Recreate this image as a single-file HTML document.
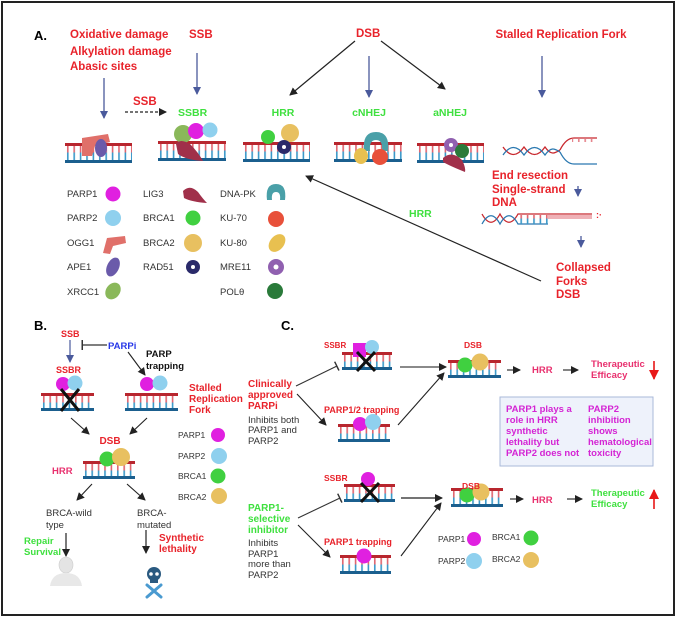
<!DOCTYPE html>
<html><head><meta charset="utf-8"><style>
html,body{margin:0;padding:0;background:#fff}
svg{display:block}
text{font-family:"Liberation Sans",sans-serif}
.r{fill:#e8232b;font-weight:bold;font-size:11.5px}
.rs{fill:#e8232b;font-weight:bold;font-size:9px}
.g{fill:#3fe03f;font-weight:bold;font-size:10.5px}
.gs{fill:#3fe03f;font-weight:bold;font-size:9.5px}
.k{fill:#333;font-size:9.5px}
.kb{fill:#111;font-weight:bold;font-size:9.5px}
.p{fill:#e8306e;font-weight:bold;font-size:9.5px}
.m{fill:#d424d4;font-weight:bold;font-size:9.5px}
.H{fill:#000;font-weight:bold;font-size:13px}
</style></head><body>
<svg width="677" height="618" viewBox="0 0 677 618" xmlns="http://www.w3.org/2000/svg">
<defs>
<pattern id="rg" width="6.4" height="19" patternUnits="userSpaceOnUse">
<rect x="2" y="0" width="1.6" height="9.5" fill="#e0646e"/>
<rect x="2" y="9.5" width="1.6" height="9.5" fill="#3a98c8"/>
</pattern>
<marker id="ak" markerWidth="8" markerHeight="8" refX="7" refY="4" orient="auto" markerUnits="userSpaceOnUse"><path d="M0,0 L8,4 L0,8 z" fill="#222"/></marker>
<marker id="ab" markerWidth="8" markerHeight="8" refX="7" refY="4" orient="auto" markerUnits="userSpaceOnUse"><path d="M0,0 L8,4 L0,8 z" fill="#4a5a9c"/></marker>
<marker id="ar" markerWidth="10" markerHeight="10" refX="9" refY="5" orient="auto" markerUnits="userSpaceOnUse"><path d="M0,0 L10,5 L0,10 z" fill="#e81818"/></marker>
<marker id="tb" markerWidth="2" markerHeight="10" refX="1" refY="5" orient="auto" markerUnits="userSpaceOnUse"><rect x="0" y="0" width="1.5" height="10" fill="#333"/></marker>
</defs>
<rect x="2" y="2" width="672" height="613" fill="none" stroke="#222" stroke-width="2"/>

<!-- ===== Panel A ===== -->
<text x="34" y="40" class="H">A.</text>
<text x="70" y="38" class="r">Oxidative damage</text>
<text x="70" y="55" class="r">Alkylation damage</text>
<text x="70" y="70" class="r">Abasic sites</text>
<text x="189" y="38" class="r">SSB</text>
<line x1="104" y1="78" x2="104" y2="118" stroke="#4a5a9c" stroke-width="1.3" marker-end="url(#ab)"/>
<line x1="197" y1="53" x2="197" y2="94" stroke="#4a5a9c" stroke-width="1.3" marker-end="url(#ab)"/>
<text x="133" y="105" class="r">SSB</text>
<line x1="125" y1="112" x2="166" y2="112" stroke="#222" stroke-width="1.2" stroke-dasharray="3,2" marker-end="url(#ak)"/>
<text x="178" y="116" class="g">SSBR</text>

<text x="356" y="37" class="r">DSB</text>
<line x1="355" y1="41" x2="290" y2="95" stroke="#222" stroke-width="1.2" marker-end="url(#ak)"/>
<line x1="381" y1="41" x2="445" y2="89" stroke="#222" stroke-width="1.2" marker-end="url(#ak)"/>
<line x1="369" y1="56" x2="369" y2="97" stroke="#4a5a9c" stroke-width="1.3" marker-end="url(#ab)"/>
<text x="283" y="116" class="g" text-anchor="middle">HRR</text>
<text x="369" y="116" class="g" text-anchor="middle">cNHEJ</text>
<text x="450" y="116" class="g" text-anchor="middle">aNHEJ</text>

<text x="561" y="38" class="r" text-anchor="middle">Stalled Replication Fork</text>
<line x1="542" y1="56" x2="542" y2="97" stroke="#4a5a9c" stroke-width="1.3" marker-end="url(#ab)"/>

<!-- DNA A -->
<g transform="translate(65,143)"><rect width="67" height="19" fill="url(#rg)"/><rect width="67" height="3" fill="#b8262e"/><rect y="17" width="67" height="3" fill="#1b5f8e"/></g>
<g transform="translate(158,141)"><rect width="68" height="19" fill="url(#rg)"/><rect width="68" height="3" fill="#b8262e"/><rect y="17" width="68" height="3" fill="#1b5f8e"/></g>
<g transform="translate(243,142)"><rect width="67" height="19" fill="url(#rg)"/><rect width="67" height="3" fill="#b8262e"/><rect y="17" width="67" height="3" fill="#1b5f8e"/></g>
<g transform="translate(334,142)"><rect width="68" height="19" fill="url(#rg)"/><rect width="68" height="3" fill="#b8262e"/><rect y="17" width="68" height="3" fill="#1b5f8e"/></g>
<g transform="translate(417,143)"><rect width="67" height="19" fill="url(#rg)"/><rect width="67" height="3" fill="#b8262e"/><rect y="17" width="67" height="3" fill="#1b5f8e"/></g>
<!-- proteins A -->
<path d="M82,138 L108,134 L110,142 L95,146 L92,156 L82,156 z" fill="#e0706a"/>
<ellipse cx="101" cy="148" rx="6" ry="9" fill="#6a5aaa"/>
<ellipse cx="183" cy="134" rx="9" ry="9" fill="#8ab85a"/>
<circle cx="196" cy="131" r="8" fill="#e020e0"/>
<circle cx="210" cy="130" r="7.5" fill="#8fd0ee"/>
<path d="M176,144 Q180,138 190,144 Q198,152 203,161 Q186,160 178,154 z" fill="#a0304a"/>
<circle cx="268" cy="137" r="7" fill="#40d040"/>
<circle cx="290" cy="133" r="9" fill="#e8c060"/>
<circle cx="284" cy="147" r="7" fill="#2a2a6a"/><circle cx="284" cy="147" r="2" fill="#fff"/>
<path d="M364,151 Q362,132 376,132 Q390,132 388,151 L382,151 Q383,140 376,140 Q369,140 370,151 z" fill="#4aa0a8"/>
<ellipse cx="361" cy="156" rx="7" ry="8" fill="#e8c050"/>
<circle cx="380" cy="157" r="8" fill="#e8503a"/>
<circle cx="451" cy="145" r="7" fill="#9060b0"/><circle cx="451" cy="145" r="2" fill="#fff"/>
<circle cx="462" cy="151" r="7" fill="#2a7a3a"/>
<path d="M443,158 Q452,150 462,160 Q466,168 465,172 Q450,166 443,162 z" fill="#a0304a"/>

<!-- Fork -->
<g fill="none" stroke-width="1.3">
<path d="M503,147 C510,157 517,157 524,147 C531,157 538,157 545,147 C552,157 556,152 560,150" stroke="#c8282e"/>
<path d="M503,155 C510,145 517,145 524,155 C531,145 538,145 545,155 C552,145 556,150 560,152" stroke="#2a78b0"/>
<path d="M560,150 Q566,138 574,138 L597,138" stroke="#c8282e"/>
<path d="M560,152 Q566,164 574,164 L597,164" stroke="#2a78b0"/>
</g>
<rect x="572" y="139" width="24" height="3" fill="url(#rg)" opacity="0.8"/>
<text x="492" y="179" class="r">End resection</text>
<text x="492" y="193" class="r">Single-strand</text>
<text x="492" y="206" class="r">DNA</text>
<line x1="578" y1="186" x2="578" y2="196" stroke="#4a5a9c" stroke-width="1.3" marker-end="url(#ab)"/>
<g fill="none" stroke-width="1.3">
<path d="M482,214 C488,225 494,225 500,214 C506,225 512,225 518,214 L592,214" stroke="#c8282e"/>
<path d="M482,224 C488,213 494,213 500,224 C506,213 512,213 518,224 L548,224" stroke="#2a78b0"/>
</g>
<rect x="520" y="215" width="28" height="9" fill="url(#rg)"/>
<rect x="548" y="215" width="44" height="4" fill="#e0646e" opacity="0.5"/>
<text x="596" y="218" class="rs" font-size="7">:·</text>
<line x1="581" y1="236" x2="581" y2="247" stroke="#4a5a9c" stroke-width="1.3" marker-end="url(#ab)"/>
<text x="556" y="271" class="r">Collapsed</text>
<text x="556" y="285" class="r">Forks</text>
<text x="556" y="298" class="r">DSB</text>
<line x1="541" y1="281" x2="306" y2="176" stroke="#222" stroke-width="1.2" marker-end="url(#ak)"/>
<text x="409" y="217" class="g">HRR</text>

<!-- Legend A -->
<text x="67" y="197" class="k">PARP1</text><text x="67" y="221" class="k">PARP2</text><text x="67" y="246" class="k">OGG1</text><text x="67" y="270" class="k">APE1</text><text x="67" y="295" class="k">XRCC1</text>
<text x="143" y="197" class="k">LIG3</text><text x="143" y="221" class="k">BRCA1</text><text x="143" y="246" class="k">BRCA2</text><text x="143" y="270" class="k">RAD51</text>
<text x="220" y="197" class="k">DNA-PK</text><text x="220" y="221" class="k">KU-70</text><text x="220" y="246" class="k">KU-80</text><text x="220" y="270" class="k">MRE11</text><text x="220" y="295" class="k">POLθ</text>
<circle cx="113" cy="194" r="7.5" fill="#e020e0"/>
<circle cx="113" cy="218" r="8" fill="#8fd0ee"/>
<path d="M103,253 L107,238 L125,236 L126,243 L113,246 L110,254 z" fill="#e0706a"/>
<ellipse cx="113" cy="267" rx="6" ry="10" fill="#6a5aaa" transform="rotate(25 113 267)"/>
<ellipse cx="113" cy="291" rx="7" ry="9" fill="#8ab85a" transform="rotate(35 113 291)"/>
<path d="M183,191 Q190,184 198,192 Q203,199 207,203 Q192,202 184,198 z" fill="#a0304a"/>
<circle cx="193" cy="218" r="7.5" fill="#40d040"/>
<circle cx="193" cy="243" r="9" fill="#e8c060"/>
<circle cx="193" cy="267" r="7" fill="#2a2a6a"/><circle cx="193" cy="267" r="2" fill="#fff"/>
<path d="M267,200 Q265,184 276,184 Q287,184 285,200 L280,200 Q281,192 276,192 Q271,192 272,200 z" fill="#4aa0a8"/>
<circle cx="276" cy="219" r="8" fill="#e8503a"/>
<ellipse cx="277" cy="243" rx="7" ry="10" fill="#e8c050" transform="rotate(40 277 243)"/>
<circle cx="276" cy="267" r="8" fill="#9060b0"/><circle cx="276" cy="267" r="2.5" fill="#fff"/>
<circle cx="275" cy="291" r="8" fill="#2a7a3a"/>

<!-- ===== Panel B ===== -->
<text x="34" y="330" class="H">B.</text>
<text x="61" y="337" class="rs">SSB</text>
<line x1="70" y1="340" x2="70" y2="362" stroke="#4a5a9c" stroke-width="1.2" marker-end="url(#ab)"/>
<line x1="107" y1="345" x2="82" y2="345" stroke="#333" stroke-width="1.2" marker-end="url(#tb)"/>
<text x="108" y="349" style="fill:#2838e8;font-weight:bold;font-size:9.5px">PARPi</text>
<line x1="128" y1="352" x2="145" y2="375" stroke="#222" stroke-width="1.1" marker-end="url(#ak)"/>
<text x="146" y="357" class="kb">PARP</text>
<text x="146" y="369" class="kb">trapping</text>
<text x="56" y="373" class="rs">SSBR</text>
<g transform="translate(41,393)"><rect width="53" height="17" fill="url(#rg)"/><rect width="53" height="3" fill="#b8262e"/><rect y="15" width="53" height="3" fill="#1b5f8e"/></g>
<circle cx="63" cy="384" r="7" fill="#e020e0"/><circle cx="75" cy="383" r="7.5" fill="#8fd0ee"/>
<path d="M61,389 L79,411 M79,389 L61,411" stroke="#111" stroke-width="3"/>
<g transform="translate(125,393)"><rect width="53" height="17" fill="url(#rg)"/><rect width="53" height="3" fill="#b8262e"/><rect y="15" width="53" height="3" fill="#1b5f8e"/></g>
<circle cx="147" cy="384" r="7" fill="#e020e0"/><circle cx="160" cy="383" r="7.5" fill="#8fd0ee"/>
<text x="189" y="391" class="r" style="font-size:10px">Stalled</text>
<text x="189" y="402" class="r" style="font-size:10px">Replication</text>
<text x="189" y="413" class="r" style="font-size:10px">Fork</text>
<line x1="71" y1="418" x2="89" y2="434" stroke="#222" stroke-width="1.1" marker-end="url(#ak)"/>
<line x1="147" y1="418" x2="130" y2="434" stroke="#222" stroke-width="1.1" marker-end="url(#ak)"/>
<text x="110" y="444" class="r" text-anchor="middle" style="font-size:10px">DSB</text>
<g transform="translate(83,461)"><rect width="52" height="17" fill="url(#rg)"/><rect width="52" height="3" fill="#b8262e"/><rect y="15" width="52" height="3" fill="#1b5f8e"/></g>
<circle cx="107" cy="459" r="7.5" fill="#40d040"/><circle cx="121" cy="457" r="9" fill="#e8c060"/>
<text x="52" y="474" class="p">HRR</text>
<line x1="92" y1="484" x2="77" y2="500" stroke="#222" stroke-width="1.1" marker-end="url(#ak)"/>
<line x1="127" y1="484" x2="145" y2="500" stroke="#222" stroke-width="1.1" marker-end="url(#ak)"/>
<text x="46" y="516" class="k">BRCA-wild</text><text x="46" y="528" class="k">type</text>
<text x="137" y="516" class="k">BRCA-</text><text x="137" y="528" class="k">mutated</text>
<line x1="66" y1="533" x2="66" y2="556" stroke="#222" stroke-width="1.2" marker-end="url(#ak)"/>
<line x1="146" y1="530" x2="146" y2="553" stroke="#222" stroke-width="1.2" marker-end="url(#ak)"/>
<text x="24" y="544" class="gs">Repair</text><text x="24" y="555" class="gs">Survival</text>
<text x="159" y="541" class="r" style="font-size:10px">Synthetic</text><text x="159" y="552" class="r" style="font-size:10px">lethality</text>
<ellipse cx="66" cy="565" rx="7" ry="8" fill="#e4e4e4" stroke="#ccc" stroke-width="0.6"/>
<path d="M50,586 Q52,573 66,573 Q80,573 82,586 z" fill="#e8e8e8"/>
<path d="M147,585 L161,597 M161,585 L147,597" stroke="#4a9ad0" stroke-width="3" stroke-linecap="round"/>
<circle cx="154" cy="574" r="7" fill="#2a5a80"/><rect x="150" y="577" width="8" height="6" fill="#2a5a80"/>
<circle cx="151" cy="574" r="1.8" fill="#fff"/><circle cx="157" cy="574" r="1.8" fill="#fff"/>
<text x="178" y="438" class="k" style="font-size:8.5px">PARP1</text>
<text x="178" y="459" class="k" style="font-size:8.5px">PARP2</text>
<text x="178" y="479" class="k" style="font-size:8.5px">BRCA1</text>
<text x="178" y="500" class="k" style="font-size:8.5px">BRCA2</text>
<circle cx="218" cy="435" r="7" fill="#e020e0"/><circle cx="219" cy="456" r="8" fill="#8fd0ee"/>
<circle cx="218" cy="476" r="7.5" fill="#40d040"/><circle cx="219" cy="496" r="8" fill="#e8c060"/>

<!-- ===== Panel C ===== -->
<text x="281" y="330" class="H">C.</text>
<text x="324" y="348" class="rs" style="font-size:8px">SSBR</text>
<g transform="translate(342,352)"><rect width="50" height="17" fill="url(#rg)"/><rect width="50" height="3" fill="#b8262e"/><rect y="15" width="50" height="3" fill="#1b5f8e"/></g>
<rect x="353" y="343" width="13" height="14" fill="#e020e0"/><circle cx="372" cy="347" r="7" fill="#8fd0ee"/>
<path d="M357,352 L375,371 M375,352 L357,371" stroke="#111" stroke-width="3"/>
<line x1="296" y1="386" x2="337" y2="366" stroke="#333" stroke-width="1.1" marker-end="url(#tb)"/>
<text x="248" y="387" class="r" style="font-size:10px">Clinically</text>
<text x="248" y="398" class="r" style="font-size:10px">approved</text>
<text x="248" y="409" class="r" style="font-size:10px">PARPi</text>
<text x="248" y="423" class="k">Inhibits both</text>
<text x="248" y="433" class="k">PARP1 and</text>
<text x="248" y="444" class="k">PARP2</text>
<line x1="297" y1="394" x2="326" y2="425" stroke="#222" stroke-width="1.1" marker-end="url(#ak)"/>
<text x="324" y="413" class="rs">PARP1/2 trapping</text>
<g transform="translate(338,424)"><rect width="52" height="17" fill="url(#rg)"/><rect width="52" height="3" fill="#b8262e"/><rect y="15" width="52" height="3" fill="#1b5f8e"/></g>
<circle cx="360" cy="424" r="7" fill="#e020e0"/><circle cx="373" cy="422" r="8" fill="#8fd0ee"/>
<line x1="400" y1="367" x2="446" y2="367" stroke="#444" stroke-width="1.3" marker-end="url(#ak)"/>
<line x1="398" y1="425" x2="444" y2="373" stroke="#222" stroke-width="1.1" marker-end="url(#ak)"/>
<text x="473" y="348" class="rs" text-anchor="middle" style="font-size:8.5px">DSB</text>
<g transform="translate(448,360)"><rect width="53" height="18" fill="url(#rg)"/><rect width="53" height="3" fill="#b8262e"/><rect y="15" width="53" height="3" fill="#1b5f8e"/></g>
<circle cx="465" cy="365" r="7.5" fill="#40d040"/><circle cx="480" cy="362" r="8.5" fill="#e8c060"/>
<line x1="507" y1="370" x2="520" y2="370" stroke="#333" stroke-width="1.2" marker-end="url(#ak)"/>
<text x="532" y="373" class="p">HRR</text>
<line x1="563" y1="370" x2="578" y2="370" stroke="#333" stroke-width="1.2" marker-end="url(#ak)"/>
<text x="591" y="367" class="p">Therapeutic</text>
<text x="591" y="378" class="p">Efficacy</text>
<line x1="654" y1="361" x2="654" y2="379" stroke="#e81818" stroke-width="1.6" marker-end="url(#ar)"/>

<rect x="500" y="397" width="153" height="69" fill="#eef2fb" stroke="#a9b9d9" stroke-width="1"/>
<text x="506" y="412" class="m">PARP1 plays a</text>
<text x="506" y="423" class="m">role in HRR</text>
<text x="506" y="434" class="m">synthetic</text>
<text x="506" y="445" class="m">lethality but</text>
<text x="506" y="456" class="m">PARP2 does not</text>
<text x="588" y="412" class="m">PARP2</text>
<text x="588" y="423" class="m">inhibition</text>
<text x="588" y="434" class="m">shows</text>
<text x="588" y="445" class="m">hematological</text>
<text x="588" y="456" class="m">toxicity</text>

<text x="324" y="481" class="rs" style="font-size:8.5px">SSBR</text>
<g transform="translate(344,484)"><rect width="51" height="17" fill="url(#rg)"/><rect width="51" height="3" fill="#b8262e"/><rect y="15" width="51" height="3" fill="#1b5f8e"/></g>
<circle cx="368" cy="479" r="7" fill="#e020e0"/>
<path d="M361,483 L379,502 M379,483 L361,502" stroke="#111" stroke-width="3"/>
<line x1="298" y1="518" x2="340" y2="498" stroke="#333" stroke-width="1.1" marker-end="url(#tb)"/>
<text x="248" y="511" class="gs" style="font-size:10px">PARP1-</text>
<text x="248" y="522" class="gs" style="font-size:10px">selective</text>
<text x="248" y="533" class="gs" style="font-size:10px">inhibitor</text>
<text x="248" y="546" class="k">Inhibits</text>
<text x="248" y="557" class="k">PARP1</text>
<text x="248" y="567" class="k">more than</text>
<text x="248" y="578" class="k">PARP2</text>
<line x1="298" y1="525" x2="330" y2="557" stroke="#222" stroke-width="1.1" marker-end="url(#ak)"/>
<text x="324" y="545" class="rs">PARP1 trapping</text>
<g transform="translate(340,555)"><rect width="51" height="18" fill="url(#rg)"/><rect width="51" height="3" fill="#b8262e"/><rect y="16" width="51" height="3" fill="#1b5f8e"/></g>
<circle cx="364" cy="556" r="7.5" fill="#e020e0"/>
<line x1="401" y1="498" x2="442" y2="498" stroke="#222" stroke-width="1.2" marker-end="url(#ak)"/>
<line x1="401" y1="556" x2="441" y2="503" stroke="#222" stroke-width="1.1" marker-end="url(#ak)"/>
<g transform="translate(451,488)"><rect width="52" height="18" fill="url(#rg)"/><rect width="52" height="3" fill="#b8262e"/><rect y="16" width="52" height="3" fill="#1b5f8e"/></g>
<circle cx="467" cy="495" r="7.5" fill="#40d040"/><circle cx="481" cy="492" r="8.5" fill="#e8c060"/>
<text x="471" y="489" class="rs" text-anchor="middle" style="font-size:8.5px">DSB</text>
<line x1="510" y1="499" x2="523" y2="499" stroke="#333" stroke-width="1.2" marker-end="url(#ak)"/>
<text x="532" y="503" class="p">HRR</text>
<line x1="567" y1="499" x2="582" y2="499" stroke="#333" stroke-width="1.2" marker-end="url(#ak)"/>
<text x="591" y="496" class="gs">Therapeutic</text>
<text x="591" y="507" class="gs">Efficacy</text>
<line x1="654" y1="509" x2="654" y2="490" stroke="#e81818" stroke-width="1.6" marker-end="url(#ar)"/>
<text x="438" y="542" class="k" style="font-size:8.5px">PARP1</text>
<text x="438" y="564" class="k" style="font-size:8.5px">PARP2</text>
<text x="492" y="540" class="k" style="font-size:8.5px">BRCA1</text>
<text x="492" y="562" class="k" style="font-size:8.5px">BRCA2</text>
<circle cx="474" cy="539" r="7" fill="#e020e0"/><circle cx="474" cy="561" r="8" fill="#8fd0ee"/>
<circle cx="531" cy="538" r="7.5" fill="#40d040"/><circle cx="531" cy="560" r="8" fill="#e8c060"/>
</svg>
</body></html>
